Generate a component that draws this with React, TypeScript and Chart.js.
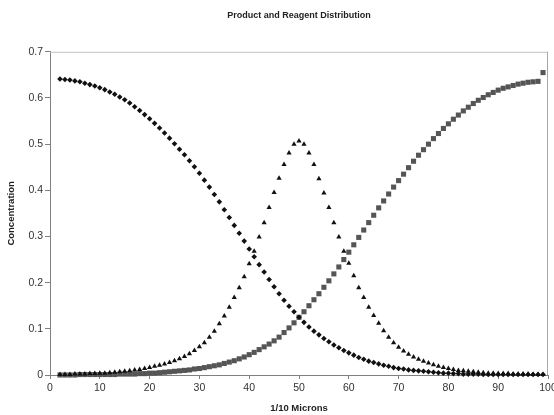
import React, { useEffect, useRef } from "react";
import { Chart, registerables } from "chart.js";

Chart.register(...registerables);

const FONT = "'Liberation Sans', Arial, sans-serif";

const xValues = [
  2, 3, 4, 5, 6, 7, 8, 9, 10, 11, 12, 13, 14, 15, 16, 17, 18, 19, 20, 21,
  22, 23, 24, 25, 26, 27, 28, 29, 30, 31, 32, 33, 34, 35, 36, 37, 38, 39, 40, 41,
  42, 43, 44, 45, 46, 47, 48, 49, 50, 51, 52, 53, 54, 55, 56, 57, 58, 59, 60, 61,
  62, 63, 64, 65, 66, 67, 68, 69, 70, 71, 72, 73, 74, 75, 76, 77, 78, 79, 80, 81,
  82, 83, 84, 85, 86, 87, 88, 89, 90, 91, 92, 93, 94, 95, 96, 97, 98, 99,
];

// diamonds
const reagent = [
  0.641, 0.640, 0.639, 0.637, 0.635, 0.632, 0.629, 0.626, 0.622, 0.618,
  0.613, 0.608, 0.602, 0.596, 0.589, 0.581, 0.573, 0.564, 0.555, 0.545,
  0.535, 0.524, 0.513, 0.501, 0.489, 0.477, 0.464, 0.451, 0.437, 0.422,
  0.407, 0.391, 0.375, 0.358, 0.341, 0.324, 0.307, 0.290, 0.273, 0.256,
  0.239, 0.223, 0.207, 0.191, 0.176, 0.162, 0.149, 0.137, 0.125, 0.114,
  0.104, 0.095, 0.087, 0.079, 0.072, 0.065, 0.059, 0.053, 0.048, 0.043,
  0.038, 0.034, 0.030, 0.027, 0.024, 0.021, 0.019, 0.016, 0.014, 0.013,
  0.011, 0.010, 0.009, 0.008, 0.007, 0.006, 0.005, 0.004, 0.004, 0.003,
  0.003, 0.002, 0.002, 0.002, 0.002, 0.001, 0.001, 0.001, 0.001, 0.001,
  0.001, 0.001, 0.001, 0.001, 0.001, 0.001, 0.001, 0.001,
];

// triangles
const intermediate = [
  0.001, 0.001, 0.001, 0.002, 0.002, 0.002, 0.003, 0.003, 0.004, 0.004,
  0.005, 0.006, 0.007, 0.008, 0.009, 0.011, 0.012, 0.014, 0.016, 0.019,
  0.021, 0.024, 0.027, 0.031, 0.035, 0.040, 0.046, 0.053, 0.061, 0.070,
  0.082, 0.095, 0.111, 0.128, 0.147, 0.168, 0.189, 0.213, 0.241, 0.268,
  0.299, 0.330, 0.363, 0.395, 0.426, 0.456, 0.481, 0.500, 0.507, 0.500,
  0.481, 0.456, 0.425, 0.394, 0.363, 0.330, 0.299, 0.268, 0.242, 0.215,
  0.189, 0.168, 0.147, 0.129, 0.112, 0.096, 0.082, 0.070, 0.060, 0.052,
  0.045, 0.039, 0.034, 0.030, 0.026, 0.022, 0.019, 0.016, 0.014, 0.012,
  0.010, 0.009, 0.008, 0.007, 0.006, 0.005, 0.004, 0.004, 0.003, 0.003,
  0.003, 0.002, 0.002, 0.002, 0.002, 0.001, 0.001, 0.001,
];

// squares
const product = [
  0.000, 0.000, 0.000, 0.000, 0.001, 0.001, 0.001, 0.001, 0.001, 0.001,
  0.001, 0.001, 0.002, 0.002, 0.002, 0.002, 0.003, 0.003, 0.004, 0.004,
  0.005, 0.006, 0.007, 0.008, 0.009, 0.010, 0.011, 0.013, 0.014, 0.016,
  0.018, 0.020, 0.022, 0.025, 0.028, 0.031, 0.035, 0.039, 0.044, 0.049,
  0.055, 0.061, 0.067, 0.074, 0.082, 0.092, 0.102, 0.113, 0.125, 0.137,
  0.150, 0.163, 0.176, 0.190, 0.204, 0.219, 0.234, 0.250, 0.266, 0.282,
  0.298, 0.314, 0.330, 0.346, 0.362, 0.377, 0.392, 0.407, 0.421, 0.435,
  0.449, 0.463, 0.476, 0.488, 0.500, 0.512, 0.523, 0.534, 0.544, 0.554,
  0.563, 0.572, 0.580, 0.588, 0.595, 0.601, 0.607, 0.612, 0.617, 0.621,
  0.624, 0.627, 0.630, 0.632, 0.634, 0.635, 0.636, 0.655,
];

const xTickLabels = ["0", "10", "20", "30", "40", "50", "60", "70", "80", "90", "100"];
const yTickLabels = ["0", "0.1", "0.2", "0.3", "0.4", "0.5", "0.6", "0.7"];

const titleText = "Product and Reagent Distribution";
const xTitle = "1/10 Microns";
const yTitle = "Concentration";

const toPoints = (ys: number[]) => xValues.map((x, i) => ({ x, y: ys[i] }));

const framePlugin = {
  id: "frame",
  beforeDatasetsDraw(chart: any) {
    const { ctx, chartArea } = chart;
    const { left, right, top, bottom } = chartArea;
    ctx.save();
    ctx.lineWidth = 1;
    ctx.strokeStyle = "#c4c4c4";
    ctx.beginPath();
    ctx.moveTo(left, top + 0.5);
    ctx.lineTo(right, top + 0.5);
    ctx.stroke();
    ctx.strokeStyle = "#a8a8a8";
    ctx.beginPath();
    ctx.moveTo(right - 0.5, top);
    ctx.lineTo(right - 0.5, bottom);
    ctx.stroke();
    ctx.restore();
  },
};

export default function App() {
  const ref = useRef<HTMLCanvasElement | null>(null);

  useEffect(() => {
    if (!ref.current) return;
    const chart = new Chart(ref.current, {
      type: "scatter",
      data: {
        datasets: [
          {
            label: "Reagent",
            data: toPoints(reagent),
            pointStyle: "rectRot",
            pointRadius: 2.8,
            backgroundColor: "#111111",
            borderColor: "#111111",
            borderWidth: 0,
            clip: false,
          },
          {
            label: "Intermediate",
            data: toPoints(intermediate),
            pointStyle: "triangle",
            pointRadius: 3,
            backgroundColor: "#111111",
            borderColor: "#111111",
            borderWidth: 0,
            clip: false,
          },
          {
            label: "Product",
            data: toPoints(product),
            pointStyle: "rect",
            pointRadius: 3.6,
            backgroundColor: "#555555",
            borderColor: "#555555",
            borderWidth: 0,
            clip: false,
          },
        ],
      },
      options: {
        responsive: false,
        animation: false,
        devicePixelRatio: 1,
        events: [],
        layout: { padding: { top: 0, left: 0, right: 6, bottom: 0 } },
        plugins: {
          legend: { display: false },
          tooltip: { enabled: false },
          title: {
            display: true,
            text: titleText,
            fullSize: false,
            color: "#222222",
            font: { family: FONT, size: 9, weight: "bold" },
            padding: { top: 10, bottom: 31 },
          },
        },
        scales: {
          x: {
            type: "linear",
            min: 0,
            max: 100,
            afterFit(scale: any) {
              scale.height = 40;
              scale.paddingLeft = 0;
              scale.paddingRight = 0;
            },
            ticks: {
              stepSize: 10,
              color: "#333333",
              font: { family: FONT, size: 10.5 },
              padding: 3,
              maxRotation: 0,
              autoSkip: false,
              callback: (_v: any, i: number) => xTickLabels[i],
            },
            grid: {
              display: true,
              drawOnChartArea: false,
              drawTicks: true,
              tickLength: 4,
              color: "#808080",
            },
            border: { display: true, color: "#808080", width: 1 },
            title: {
              display: true,
              text: xTitle,
              color: "#222222",
              font: { family: FONT, size: 9.5, weight: "bold" },
              padding: { top: 0, bottom: 0.5 },
            },
          },
          y: {
            type: "linear",
            min: 0,
            max: 0.7,
            afterFit(scale: any) {
              scale.width = 50;
              scale.paddingTop = 0;
              scale.paddingBottom = 0;
            },
            ticks: {
              stepSize: 0.1,
              color: "#333333",
              font: { family: FONT, size: 10.5 },
              padding: 2,
              callback: (_v: any, i: number) => yTickLabels[i],
            },
            grid: {
              display: true,
              drawOnChartArea: false,
              drawTicks: true,
              tickLength: 5,
              color: "#808080",
            },
            border: { display: true, color: "#808080", width: 1 },
            title: {
              display: true,
              text: yTitle,
              color: "#222222",
              font: { family: FONT, size: 9.5, weight: "bold" },
              padding: { top: 6, bottom: 0 },
            },
          },
        },
      },
      plugins: [framePlugin],
    });
    return () => chart.destroy();
  }, []);

  return (
    <div style={{ position: "fixed", left: 0, top: 0, width: 554, height: 415, background: "#ffffff" }}>
      <canvas ref={ref} width={554} height={415} style={{ display: "block", width: 554, height: 415 }} />
    </div>
  );
}
